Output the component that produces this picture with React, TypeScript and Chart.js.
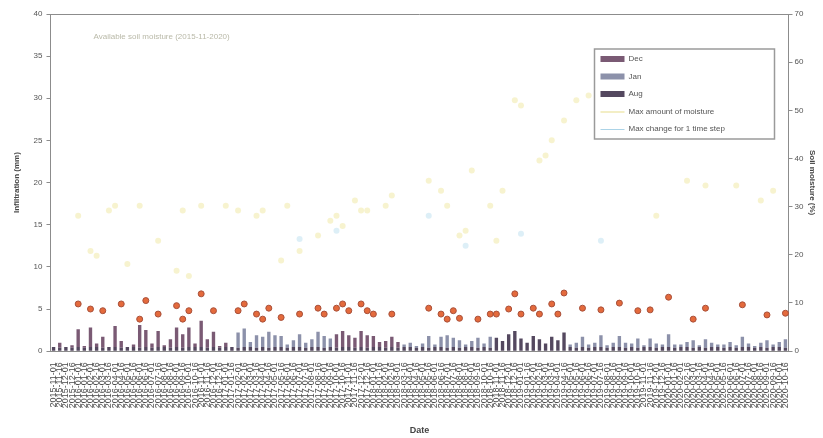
import React, { useEffect, useRef } from "react";
import { Chart, registerables } from "chart.js";

Chart.register(...registerables);

// Sampling dates (1st and 16th of each month)
const dates = [
  "2015-11-01", "2015-11-16", "2015-12-01", "2015-12-16",
  "2016-01-01", "2016-01-16", "2016-02-01", "2016-02-16", "2016-03-01", "2016-03-16",
  "2016-04-01", "2016-04-16", "2016-05-01", "2016-05-16", "2016-06-01", "2016-06-16",
  "2016-07-01", "2016-07-16", "2016-08-01", "2016-08-16", "2016-09-01", "2016-09-16",
  "2016-10-01", "2016-10-16", "2016-11-01", "2016-11-16", "2016-12-01", "2016-12-16",
  "2017-01-01", "2017-01-16", "2017-02-01", "2017-02-16", "2017-03-01", "2017-03-16",
  "2017-04-01", "2017-04-16", "2017-05-01", "2017-05-16", "2017-06-01", "2017-06-16",
  "2017-07-01", "2017-07-16", "2017-08-01", "2017-08-16", "2017-09-01", "2017-09-16",
  "2017-10-01", "2017-10-16", "2017-11-01", "2017-11-16", "2017-12-01", "2017-12-16",
  "2018-01-01", "2018-01-16", "2018-02-01", "2018-02-16", "2018-03-01", "2018-03-16",
  "2018-04-01", "2018-04-16", "2018-05-01", "2018-05-16", "2018-06-01", "2018-06-16",
  "2018-07-01", "2018-07-16", "2018-08-01", "2018-08-16", "2018-09-01", "2018-09-16",
  "2018-10-01", "2018-10-16", "2018-11-01", "2018-11-16", "2018-12-01", "2018-12-16",
  "2019-01-01", "2019-01-16", "2019-02-01", "2019-02-16", "2019-03-01", "2019-03-16",
  "2019-04-01", "2019-04-16", "2019-05-01", "2019-05-16", "2019-06-01", "2019-06-16",
  "2019-07-01", "2019-07-16", "2019-08-01", "2019-08-16", "2019-09-01", "2019-09-16",
  "2019-10-01", "2019-10-16", "2019-11-01", "2019-11-16", "2019-12-01", "2019-12-16",
  "2020-01-01", "2020-01-16", "2020-02-01", "2020-02-16", "2020-03-01", "2020-03-16",
  "2020-04-01", "2020-04-16", "2020-05-01", "2020-05-16", "2020-06-01", "2020-06-16",
  "2020-07-01", "2020-07-16", "2020-08-01", "2020-08-16", "2020-09-01", "2020-09-16",
  "2020-10-01", "2020-10-16",
];

const seriesNames = ["Dec", "Jan", "Aug", "Max amount of moisture", "Max change for 1 time step"];

// Stacked bars (mm), left axis
const decBars = [
  0, 0.6, 0, 0.3, 2.1, 0.2, 2.3, 0.4, 1.3, 0,
  2.5, 0.8, 0, 0.3, 2.7, 2.0, 0.5, 1.9, 0.2, 1.0,
  2.3, 1.6, 2.3, 0.4, 3.1, 1.0, 1.8, 0.2, 0.5, 0,
  0, 0, 0, 0, 0, 0, 0, 0, 0, 0,
  0, 0, 0, 0, 0, 0, 1.6, 1.9, 1.4, 1.2,
  1.9, 1.5, 1.3, 0.6, 0.8, 1.2, 0.7, 0, 0, 0,
  0, 0, 0, 0, 0, 0, 0, 0, 0, 0,
  0, 0, 0, 0, 0, 0, 0, 0, 0, 0,
  0, 0, 0, 0, 0, 0, 0, 0, 0, 0,
  0, 0, 0, 0, 0, 0, 0, 0, 0, 0,
  0, 0, 0, 0, 0, 0, 0, 0, 0, 0,
  0, 0, 0, 0, 0, 0, 0, 0, 0, 0,
];

const janBars = [
  0, 0, 0, 0, 0, 0, 0, 0, 0, 0,
  0, 0, 0, 0, 0, 0, 0, 0, 0, 0,
  0, 0, 0, 0, 0, 0, 0, 0, 0, 0,
  1.8, 2.2, 0.6, 1.5, 1.2, 1.9, 1.4, 1.3, 0.4, 0.8,
  1.5, 0.6, 0.9, 1.8, 1.4, 1.0, 0, 0, 0, 0,
  0, 0, 0, 0, 0, 0, 0, 0.3, 0.5, 0.2,
  0.4, 1.4, 0.3, 1.2, 1.5, 1.1, 0.9, 0.3, 0.7, 1.2,
  0.4, 1.3, 0, 0, 0, 0, 0, 0, 0, 0,
  0, 0, 0, 0, 0.3, 0.6, 1.2, 0.4, 0.5, 1.4,
  0.3, 0.5, 1.3, 0.6, 0.4, 1.1, 0.2, 1.0, 0.5, 0.3,
  1.5, 0.4, 0.3, 0.6, 0.9, 0.2, 1.0, 0.5, 0.3, 0.4,
  0.6, 0.3, 1.2, 0.4, 0.2, 0.5, 0.9, 0.3, 0.6, 1.0,
];

const augBars = [
  0.5, 0.4, 0.5, 0.4, 0.5, 0.4, 0.5, 0.5, 0.4, 0.5,
  0.5, 0.4, 0.5, 0.5, 0.4, 0.5, 0.4, 0.5, 0.5, 0.4,
  0.5, 0.4, 0.5, 0.5, 0.5, 0.4, 0.5, 0.4, 0.5, 0.5,
  0.4, 0.5, 0.5, 0.4, 0.5, 0.4, 0.5, 0.5, 0.4, 0.5,
  0.5, 0.4, 0.5, 0.5, 0.4, 0.5, 0.4, 0.5, 0.5, 0.4,
  0.5, 0.4, 0.5, 0.5, 0.4, 0.5, 0.4, 0.5, 0.5, 0.4,
  0.5, 0.4, 0.5, 0.5, 0.4, 0.5, 0.4, 0.5, 0.5, 0.4,
  0.5, 0.4, 1.6, 1.2, 2.0, 2.4, 1.5, 1.0, 1.8, 1.4,
  0.9, 1.7, 1.3, 2.2, 0.5, 0.4, 0.5, 0.4, 0.5, 0.5,
  0.4, 0.5, 0.5, 0.4, 0.5, 0.4, 0.5, 0.5, 0.4, 0.5,
  0.5, 0.4, 0.5, 0.5, 0.4, 0.5, 0.4, 0.5, 0.5, 0.4,
  0.5, 0.4, 0.5, 0.5, 0.4, 0.5, 0.4, 0.5, 0.5, 0.4,
];

// Infiltration events (mm), left axis
const infiltration = [
  null, null, null, null, 5.6, null, 5.0, null, 4.8, null,
  null, 5.6, null, null, 3.8, 6.0, null, 4.4, null, null,
  5.4, 3.8, 4.8, null, 6.8, null, 4.8, null, null, null,
  4.8, 5.6, null, 4.4, 3.8, 5.1, null, 4.0, null, null,
  4.4, null, null, 5.1, 4.4, null, 5.1, 5.6, 4.8, null,
  5.6, 4.8, 4.4, null, null, 4.4, null, null, null, null,
  null, 5.1, null, 4.4, 3.8, 4.8, 3.9, null, null, 3.8,
  null, 4.4, 4.4, null, 5.0, 6.8, 4.4, null, 5.1, 4.4,
  null, 5.6, 4.4, 6.9, null, null, 5.1, null, null, 4.9,
  null, null, 5.7, null, null, 4.8, null, 4.9, null, null,
  6.4, null, null, null, 3.8, null, 5.1, null, null, null,
  null, null, 5.5, null, null, null, 4.3, null, null, 4.5,
];

// Soil moisture (%), right axis
const maxMoisture = [
  null, null, null, null, 28.1, null, 20.8, 19.8, null, 29.2,
  30.2, null, 18.1, null, 30.2, null, null, 22.9, null, null,
  16.7, 29.2, 15.6, null, 30.2, null, null, null, 30.2, null,
  29.2, null, null, 28.1, 29.2, null, null, 18.8, 30.2, null,
  20.8, null, null, 24.0, null, 27.1, 28.1, 26.0, null, 31.3,
  29.2, 29.2, null, null, 30.2, 32.3, null, null, null, null,
  null, 35.4, null, 33.3, 30.2, null, 24.0, 25.0, 37.5, null,
  null, 30.2, 22.9, 33.3, null, 52.1, 51.0, null, null, 39.6,
  40.6, 43.8, null, 47.9, null, 52.1, null, 53.1, null, 60.4,
  null, 49.0, null, null, null, 55.2, null, 47.9, 28.1, null,
  null, null, null, 35.4, null, null, 34.4, null, null, null,
  null, 34.4, null, null, null, 31.3, null, 33.3, null, null,
];

const maxChange = [
  null, null, null, null, null, null, null, null, null, null,
  null, null, null, null, null, null, null, null, null, null,
  null, null, null, null, null, null, null, null, null, null,
  null, null, null, null, null, null, null, null, null, null,
  23.3, null, null, null, null, null, 25.0, null, null, null,
  null, null, null, null, null, null, null, null, null, null,
  null, 28.1, null, null, null, null, null, 21.9, null, null,
  null, null, null, null, null, null, 24.4, null, null, null,
  null, null, null, null, null, null, null, null, null, 22.9,
  null, null, null, null, null, null, null, null, null, null,
  null, null, null, null, null, null, null, null, null, null,
  null, null, null, null, null, null, null, null, null, null,
];

const leftTicks = [0, 5, 10, 15, 20, 25, 30, 35, 40];
const rightTicks = [0, 10, 20, 30, 40, 50, 60, 70];

const COLORS = {
  dec: "#7a5a74",
  jan: "#8c91aa",
  aug: "#54485f",
  moisture: "rgba(236, 226, 140, 0.42)",
  change: "rgba(175, 218, 236, 0.42)",
  point: "#e46a3c",
  pointEdge: "#a8503a",
  axis: "#8c8c8c",
  text: "#555555",
};

const FONT = "'Liberation Sans', Arial, sans-serif";

const legendItems = [
  { label: seriesNames[0], color: COLORS.dec, kind: "box" },
  { label: seriesNames[1], color: COLORS.jan, kind: "box" },
  { label: seriesNames[2], color: COLORS.aug, kind: "box" },
  { label: seriesNames[3], color: "rgba(225, 212, 110, 0.8)", kind: "line" },
  { label: seriesNames[4], color: "rgba(150, 200, 225, 0.8)", kind: "line" },
];

// Plot frame top edge, period note and the boxed legend inside the plot
const overlayPlugin = {
  id: "overlay",
  afterDraw(chart: any) {
    const { ctx, chartArea } = chart;
    ctx.save();
    ctx.strokeStyle = COLORS.axis;
    ctx.lineWidth = 1;
    ctx.beginPath();
    ctx.moveTo(chartArea.left, chartArea.top + 0.5);
    ctx.lineTo(chartArea.right, chartArea.top + 0.5);
    ctx.stroke();

    ctx.font = `8px ${FONT}`;
    ctx.fillStyle = "#b9b9a8";
    ctx.textBaseline = "middle";
    ctx.fillText("Available soil moisture (2015-11-2020)", chartArea.left + 43, chartArea.top + 23);

    const w = 180;
    const h = 90;
    const x0 = chartArea.right - 194;
    const y0 = chartArea.top + 35;
    ctx.fillStyle = "#ffffff";
    ctx.fillRect(x0, y0, w, h);
    ctx.strokeStyle = "#9a9a9a";
    ctx.lineWidth = 1.5;
    ctx.strokeRect(x0, y0, w, h);
    legendItems.forEach((it, k) => {
      const cy = y0 + 10 + k * 17.5;
      if (it.kind === "box") {
        ctx.fillStyle = it.color;
        ctx.fillRect(x0 + 6, cy - 3, 24, 6);
      } else {
        ctx.strokeStyle = it.color;
        ctx.lineWidth = 1;
        ctx.beginPath();
        ctx.moveTo(x0 + 6, cy + 0.5);
        ctx.lineTo(x0 + 30, cy + 0.5);
        ctx.stroke();
      }
      ctx.fillStyle = COLORS.text;
      ctx.font = `8px ${FONT}`;
      ctx.fillText(it.label, x0 + 34, cy);
    });
    ctx.restore();
  },
};

export default function App() {
  const canvasRef = useRef<HTMLCanvasElement | null>(null);

  useEffect(() => {
    document.body.style.margin = "0";
    const canvas = canvasRef.current;
    if (!canvas) return;

    const barBase = {
      type: "bar" as const,
      yAxisID: "y",
      stack: "bars",
      barPercentage: 0.55,
      categoryPercentage: 1,
      borderWidth: 0,
    };

    const chart = new Chart(canvas, {
      type: "bar",
      data: {
        labels: dates,
        datasets: [
          { ...barBase, label: seriesNames[2], data: augBars, backgroundColor: COLORS.aug },
          { ...barBase, label: seriesNames[0], data: decBars, backgroundColor: COLORS.dec },
          { ...barBase, label: seriesNames[1], data: janBars, backgroundColor: COLORS.jan },
          {
            type: "line",
            label: "Infiltration",
            data: infiltration,
            yAxisID: "y",
            stack: "infiltration",
            showLine: false,
            pointRadius: 3,
            pointBackgroundColor: COLORS.point,
            pointBorderColor: COLORS.pointEdge,
            pointBorderWidth: 1,
            order: -1,
          },
          {
            type: "line",
            label: seriesNames[3],
            data: maxMoisture,
            yAxisID: "y1",
            showLine: false,
            pointRadius: 3,
            pointBackgroundColor: COLORS.moisture,
            pointBorderColor: COLORS.moisture,
            pointBorderWidth: 0,
          },
          {
            type: "line",
            label: seriesNames[4],
            data: maxChange,
            yAxisID: "y1",
            showLine: false,
            pointRadius: 3,
            pointBackgroundColor: COLORS.change,
            pointBorderColor: COLORS.change,
            pointBorderWidth: 0,
          },
        ] as any,
      },
      options: {
        animation: false,
        responsive: true,
        maintainAspectRatio: false,
        layout: { padding: { top: 14, right: 4, left: 12, bottom: 2 } },
        plugins: {
          legend: { display: false },
          tooltip: { enabled: false },
        },
        scales: {
          x: {
            stacked: true,
            grid: { display: false },
            border: { color: COLORS.axis, width: 1 },
            ticks: {
              autoSkip: false,
              minRotation: 90,
              maxRotation: 90,
              color: "#4a4a4a",
              font: { size: 9, family: FONT },
              padding: 3,
            },
            title: {
              display: true,
              text: "Date",
              color: "#444",
              font: { size: 9, family: FONT, weight: "bold" },
              padding: { top: 14, bottom: 0 },
            },
          },
          y: {
            stacked: true,
            position: "left",
            min: 0,
            max: 40,
            afterBuildTicks: (axis: any) => {
              axis.ticks = leftTicks.map((v) => ({ value: v }));
            },
            grid: { drawOnChartArea: false, tickLength: 4, color: COLORS.axis },
            border: { color: COLORS.axis, width: 1 },
            ticks: { color: COLORS.text, font: { size: 8, family: FONT }, padding: 4 },
            title: {
              display: true,
              text: "Infiltration (mm)",
              color: "#444",
              font: { size: 8, family: FONT, weight: "bold" },
              padding: { top: 0, bottom: 8 },
            },
          },
          y1: {
            position: "right",
            min: 0,
            max: 70,
            afterBuildTicks: (axis: any) => {
              axis.ticks = rightTicks.map((v) => ({ value: v }));
            },
            grid: { drawOnChartArea: false, tickLength: 4, color: COLORS.axis },
            border: { color: COLORS.axis, width: 1 },
            ticks: { color: COLORS.text, font: { size: 8, family: FONT }, padding: 2 },
            title: {
              display: true,
              text: "Soil moisture (%)",
              color: "#444",
              font: { size: 8, family: FONT, weight: "bold" },
              padding: 2,
            },
          },
        },
      } as any,
      plugins: [overlayPlugin],
    });

    return () => chart.destroy();
  }, []);

  return (
    <div style={{ width: 823, height: 438, position: "relative", background: "#fff" }}>
      <canvas ref={canvasRef} />
    </div>
  );
}
